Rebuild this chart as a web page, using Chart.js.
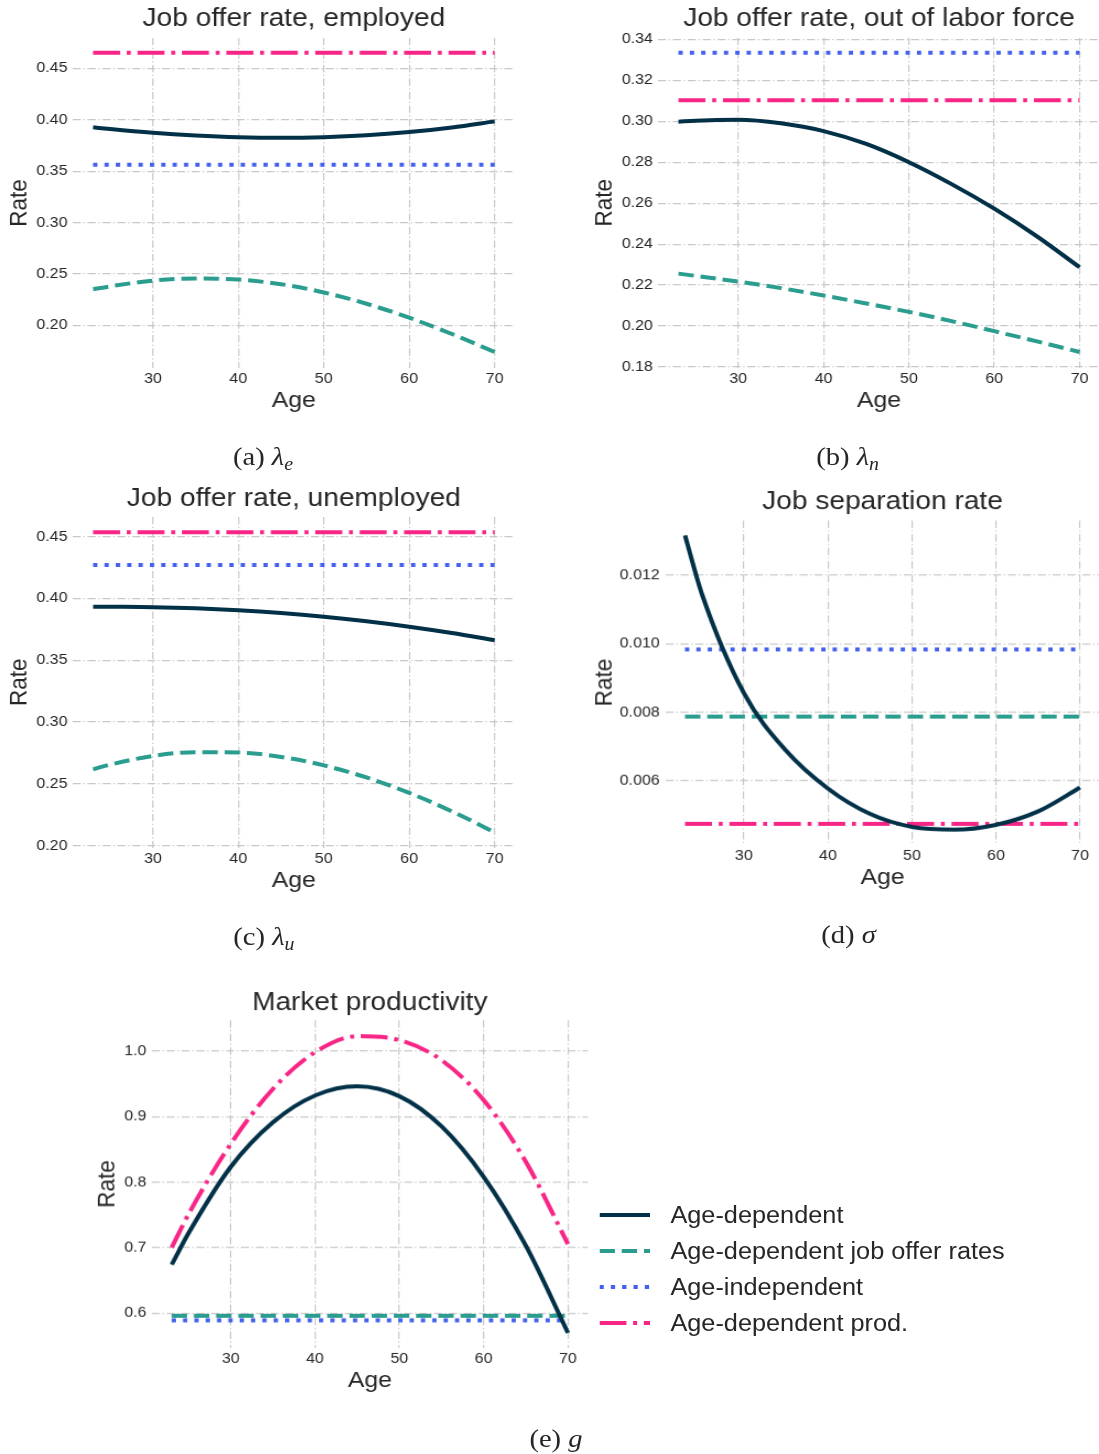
<!DOCTYPE html>
<html>
<head>
<meta charset="utf-8">
<title>Age profiles of job offer, separation and productivity</title>
<script src="https://cdn.jsdelivr.net/npm/chart.js@4.4.1/dist/chart.umd.min.js"></script>
<style>
  body { margin: 0; background: #fff; overflow: hidden; }
  /* the reference figure is stretched ~10% horizontally, so we lay out at 999px and stretch */
  #figure {
    position: relative; width: 999px; height: 1454px;
    transform: scaleX(1.1); transform-origin: 0 0;
    font-family: "Liberation Sans", Arial, sans-serif; color: #262626;
  }
  .panel { position: absolute; }
  .caption {
    position: absolute; transform: translate(-50%, -50%);
    font-family: "Liberation Serif", "DejaVu Serif", serif; font-size: 26px; white-space: nowrap;
  }
  .caption sub { font-size: 18px; vertical-align: -5px; }
  .legend-row { position: absolute; height: 28px; white-space: nowrap; }
  .legend-row svg { position: absolute; left: 0; top: 0; }
  .legend-row span { position: absolute; left: 64px; top: 0; font-size: 23px; line-height: 28px; }
</style>
</head>
<body>
<div id="figure">
  <div class="panel" id="employed"><canvas></canvas></div>
  <div class="panel" id="outOfLabor"><canvas></canvas></div>
  <div class="panel" id="unemployed"><canvas></canvas></div>
  <div class="panel" id="separation"><canvas></canvas></div>
  <div class="panel" id="productivity"><canvas></canvas></div>
  <div id="legend"></div>
</div>

<script>
// ---- data ----
const ages = [23, 25, 30, 35, 40, 45, 50, 55, 60, 65, 70]
const flatAges = [23, 70]
const ageTicks = [30, 40, 50, 60, 70]

// (a) job offer rate, employed
const empAgeDep = [0.3926, 0.3909, 0.3873, 0.3847, 0.383, 0.3824, 0.383, 0.3848, 0.388, 0.3925, 0.3984]
const empJobOffer = [0.2351, 0.2379, 0.2435, 0.2455, 0.2445, 0.24, 0.232, 0.221, 0.2074, 0.1916, 0.174]
const empIndep = [0.3563, 0.3563]
const empProd = [0.4652, 0.4652]
const empTicks = [0.2, 0.25, 0.3, 0.35, 0.4, 0.45]

// (b) job offer rate, out of labor force
const olfAgeDep = [0.2998, 0.3003, 0.3007, 0.299, 0.2952, 0.2889, 0.28, 0.2693, 0.2573, 0.2438, 0.2287]
const olfJobOffer = [0.2256, 0.2245, 0.2217, 0.2185, 0.2149, 0.211, 0.2069, 0.2024, 0.1975, 0.1925, 0.1873]
const olfIndep = [0.3335, 0.3335]
const olfProd = [0.3102, 0.3102]
const olfTicks = [0.18, 0.2, 0.22, 0.24, 0.26, 0.28, 0.3, 0.32, 0.34]

// (c) job offer rate, unemployed
const uneAgeDep = [0.3934, 0.3933, 0.393, 0.3921, 0.3905, 0.3882, 0.3852, 0.3815, 0.3771, 0.372, 0.3662]
const uneJobOffer = [0.2618, 0.2656, 0.2726, 0.2757, 0.2754, 0.2718, 0.265, 0.2552, 0.2427, 0.2278, 0.2108]
const uneIndep = [0.4271, 0.4271]
const uneProd = [0.4536, 0.4536]
const uneTicks = [0.2, 0.25, 0.3, 0.35, 0.4, 0.45]

// (d) job separation rate
const sepAgeDep = [0.01316, 0.01146, 0.00856, 0.00688, 0.00577, 0.00503, 0.00465, 0.00457, 0.00471, 0.0051, 0.0058]
const sepJobOffer = [0.00787, 0.00787]
const sepIndep = [0.00983, 0.00983]
const sepProd = [0.00474, 0.00474]
const sepTicks = [0.006, 0.008, 0.01, 0.012]

// (e) market productivity
const prodAgeDep = [0.674, 0.722, 0.823, 0.891, 0.932, 0.946, 0.931, 0.885, 0.808, 0.703, 0.57]
const prodJobOffer = [0.596, 0.596]
const prodIndep = [0.589, 0.589]
const prodProd = [0.7, 0.751, 0.858, 0.942, 0.998, 1.0225, 1.0165, 0.986, 0.925, 0.831, 0.7055]
const prodTicks = [0.6, 0.7, 0.8, 0.9, 1.0]

// ---- styling ----
const SX = 1.1
const ink = "#262626"
const lineStyles = [
  { label: "Age-dependent", color: "#023047", dash: [] },
  { label: "Age-dependent job offer rates", color: "#2a9d8f", dash: [14, 6.2] },
  { label: "Age-independent", color: "#4361ee", dash: [3.9, 6.4] },
  { label: "Age-dependent prod.", color: "#f72585", dash: [24.5, 6.1, 3.6, 6.1] },
]
const gridDash = [7.3, 2.5, 1.2, 2.5]

Chart.defaults.font.family = '"Liberation Sans", Arial, sans-serif'
Chart.defaults.color = ink

function makeDatasets(seriesList) {
  return seriesList.map((values, i) => {
    const xs = values.length === 2 ? flatAges : ages
    const style = lineStyles[i]
    return {
      label: style.label,
      data: values.map((v, j) => ({ x: xs[j], y: v })),
      borderColor: style.color,
      borderDash: style.dash,
      borderWidth: 4,
      borderCapStyle: "butt",
      pointRadius: 0,
      fill: false,
      cubicInterpolationMode: "monotone",
    }
  })
}

// frame is measured in reference pixels: plot box, title middle, "Rate" middle, "Age" middle
function drawPanel(id, frame, title, seriesList, yTicks, yMin, yMax, digits) {
  const left = frame.rateX / SX - 17.5
  const top = frame.titleY - 19.3
  const xAxisH = frame.ageY - frame.bottom + 17.5
  const yAxisW = frame.left / SX - left

  const box = document.getElementById(id)
  box.style.left = left + "px"
  box.style.top = top + "px"
  box.style.width = frame.right / SX - left + "px"
  box.style.height = frame.bottom + xAxisH - top + "px"

  const grid = { color: "#c8c8c8", lineWidth: 1.2, drawTicks: false }
  const border = { display: false, dash: gridDash }

  new Chart(box.querySelector("canvas"), {
    type: "line",
    data: { datasets: makeDatasets(seriesList) },
    options: {
      responsive: true,
      maintainAspectRatio: false,
      animation: false,
      layout: { padding: 0 },
      plugins: {
        legend: { display: false },
        tooltip: { enabled: false },
        title: {
          display: true,
          text: title,
          fullSize: false,
          color: ink,
          font: { size: 25.5, weight: "normal" },
          padding: { top: 4, bottom: frame.top - top - 34.6 },
        },
      },
      scales: {
        x: {
          type: "linear",
          min: 20.65,
          max: 72.35,
          afterBuildTicks: (s) => { s.ticks = ageTicks.map((v) => ({ value: v })) },
          afterFit: (s) => { s.height = xAxisH },
          grid,
          border,
          ticks: { padding: 2.5, maxRotation: 0, font: { size: 14.5 }, color: ink, callback: (v) => String(v) },
          title: { display: true, text: "Age", color: ink, font: { size: 22.5 }, padding: { top: 0, bottom: 4 } },
        },
        y: {
          type: "linear",
          min: yMin,
          max: yMax,
          afterBuildTicks: (s) => { s.ticks = yTicks.map((v) => ({ value: v })) },
          afterFit: (s) => { s.width = yAxisW },
          grid,
          border,
          ticks: { padding: 5, font: { size: 14.5 }, color: ink, callback: (v) => v.toFixed(digits) },
          title: { display: true, text: "Rate", color: ink, font: { size: 22.5 }, padding: { top: 4, bottom: 0 } },
        },
      },
    },
  })
}

drawPanel("employed",
  { left: 73.2, top: 37.6, right: 516.1, bottom: 367.8, titleY: 19, rateX: 19.6, ageY: 400.5 },
  "Job offer rate, employed",
  [empAgeDep, empJobOffer, empIndep, empProd], empTicks, 0.1584, 0.4796, 2)

drawPanel("outOfLabor",
  { left: 658.4, top: 37.4, right: 1100.9, bottom: 367.3, titleY: 19, rateX: 604.6, ageY: 400.5 },
  "Job offer rate, out of labor force",
  [olfAgeDep, olfJobOffer, olfIndep, olfProd], olfTicks, 0.1797, 0.3408, 2)

drawPanel("unemployed",
  { left: 73.2, top: 516.9, right: 516.1, bottom: 847.8, titleY: 499.3, rateX: 19.6, ageY: 880.5 },
  "Job offer rate, unemployed",
  [uneAgeDep, uneJobOffer, uneIndep, uneProd], uneTicks, 0.1983, 0.466, 2)

drawPanel("separation",
  { left: 665.2, top: 521, right: 1101, bottom: 843.8, titleY: 502.7, rateX: 604.6, ageY: 876.7 },
  "Job separation rate",
  [sepAgeDep, sepJobOffer, sepIndep, sepProd], sepTicks, 0.00414, 0.01359, 3)

drawPanel("productivity",
  { left: 151.8, top: 1020.2, right: 589.9, bottom: 1346.6, titleY: 1003.3, rateX: 107.2, ageY: 1380 },
  "Market productivity",
  [prodAgeDep, prodJobOffer, prodIndep, prodProd], prodTicks, 0.5476, 1.0467, 1)

// ---- captions ----
const captions = [
  { x: 263, y: 458, html: "(a) <i>λ</i><sub><i>e</i></sub>" },
  { x: 847.6, y: 458, html: "(b) <i>λ</i><sub><i>n</i></sub>" },
  { x: 263.9, y: 938, html: "(c) <i>λ</i><sub><i>u</i></sub>" },
  { x: 848.5, y: 935, html: "(d) <i>σ</i>" },
  { x: 556, y: 1439, html: "(e) <i>g</i>" },
]
const fig = document.getElementById("figure")
captions.forEach((c) => {
  const el = document.createElement("div")
  el.className = "caption"
  el.style.left = c.x / SX + "px"
  el.style.top = c.y + "px"
  el.innerHTML = c.html
  fig.appendChild(el)
})

// ---- legend (right of panel e) ----
const legendRowsY = [1214.7, 1251, 1287.3, 1323.3]
const legend = document.getElementById("legend")
lineStyles.forEach((s, i) => {
  const row = document.createElement("div")
  row.className = "legend-row"
  row.style.left = 600 / SX + "px"
  row.style.top = legendRowsY[i] - 14 + "px"
  const dash = s.dash.length ? ` stroke-dasharray="${s.dash.join(" ")}"` : ""
  row.innerHTML =
    `<svg width="46" height="28"><line x1="0" y1="14" x2="46" y2="14" stroke="${s.color}" stroke-width="4"${dash}/></svg>` +
    `<span>${s.label}</span>`
  legend.appendChild(row)
})
</script>
</body>
</html>
